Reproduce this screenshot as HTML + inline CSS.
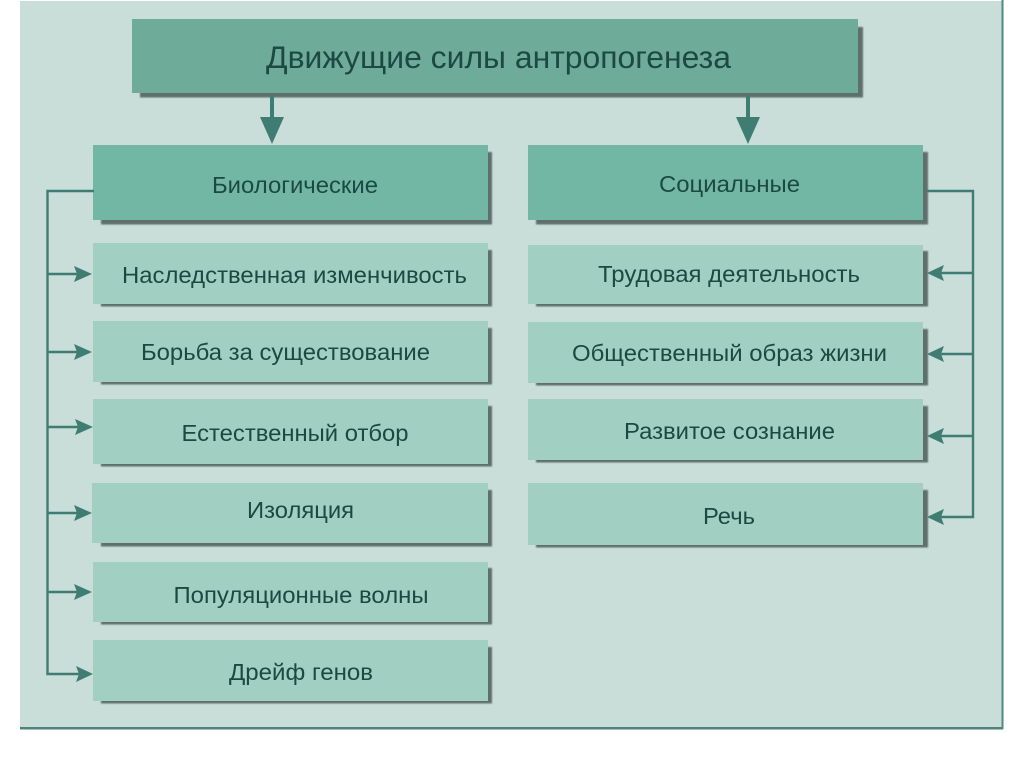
<!DOCTYPE html>
<html><head><meta charset="utf-8"><style>
html,body{margin:0;padding:0;background:#fff;width:1024px;height:767px;overflow:hidden}
svg{display:block}
text{font-family:"Liberation Sans",sans-serif;fill:#1b4a43;text-anchor:middle}
</style></head><body>
<svg width="1024" height="767" viewBox="0 0 1024 767" xmlns="http://www.w3.org/2000/svg">
<defs><filter id="b" x="-5%" y="-10%" width="110%" height="120%"><feGaussianBlur stdDeviation="0.7"/></filter>
<filter id="t" x="-5%" y="-20%" width="110%" height="140%"><feGaussianBlur stdDeviation="0.3"/></filter></defs>
<rect x="20" y="1" width="982" height="727" fill="#c9ddd9"/>
<rect x="20" y="727" width="983" height="2.5" fill="#4d8379"/>
<rect x="1001.5" y="0" width="2" height="729" fill="#4d8a82"/>
<g fill="#5f6f6b" filter="url(#b)">
<rect x="140" y="27" width="723" height="70.500"/>
<rect x="101" y="152" width="391" height="72.500"/>
<rect x="536" y="152" width="392" height="72.500"/>
<rect x="101" y="250" width="391" height="56.500"/>
<rect x="101" y="328" width="391" height="56.500"/>
<rect x="101" y="406" width="391" height="60.500"/>
<rect x="101" y="490" width="391" height="56.500"/>
<rect x="101" y="568" width="391" height="56.500"/>
<rect x="101" y="647" width="391" height="56.500"/>
<rect x="536" y="251" width="392" height="55.500"/>
<rect x="536" y="329" width="392" height="56.500"/>
<rect x="536" y="406" width="392" height="56.500"/>
<rect x="536" y="490" width="392" height="57.500"/>
</g>
<rect x="132" y="19" width="726" height="74" fill="#6fab99"/>
<g fill="#72b7a3">
<rect x="93" y="145" width="395" height="75"/>
<rect x="528" y="145" width="395" height="75"/>
</g>
<g fill="#a1cfc1">
<rect x="93" y="243" width="395" height="61"/>
<rect x="93" y="321" width="395" height="61"/>
<rect x="93" y="399" width="395" height="65"/>
<rect x="92" y="483" width="396" height="60"/>
<rect x="93" y="562" width="395" height="60"/>
<rect x="93" y="640" width="395" height="61"/>
<rect x="528" y="245" width="395" height="59"/>
<rect x="528" y="322" width="395" height="61"/>
<rect x="528" y="399" width="395" height="61"/>
<rect x="528" y="483" width="395" height="62"/>
</g>
<g fill="none" stroke="#3f7d72" stroke-width="2.4">
<path d="M94 191H47.500V674H80"/>
<path d="M47.500 274H80M47.500 352H80M47.500 427H80M47.500 513H80M47.500 592H80"/>
<path d="M927 191H973V517H940"/>
<path d="M973 273H940M973 354H940M973 436H940"/>
</g>
<g fill="none" stroke="#3f7d72" stroke-width="4">
<path d="M272 96V122M748 96V122"/>
</g>
<g fill="#3f7d72">
<path d="M260 117L284 117L272 144Z"/>
<path d="M736 117L760 117L748 144Z"/>
<path d="M92 274L74 266L77 274L74 282Z"/>
<path d="M92 352L74 344L77 352L74 360Z"/>
<path d="M93 427L75 419L78 427L75 435Z"/>
<path d="M92 513L74 505L77 513L74 521Z"/>
<path d="M92 592L74 584L77 592L74 600Z"/>
<path d="M93 674L76 666L79 674L76 682Z"/>
<path d="M927 273L944 265L941 273L944 281Z"/>
<path d="M927 354L944 346L941 354L944 362Z"/>
<path d="M927 436L944 428L941 436L944 444Z"/>
<path d="M927 517L944 509L941 517L944 525Z"/>
</g>
<g filter="url(#t)">
<text x="498.500" y="68" font-size="31.500" textLength="465" lengthAdjust="spacingAndGlyphs">Движущие силы антропогенеза</text>
<text x="295" y="193" font-size="23.500" textLength="166" lengthAdjust="spacingAndGlyphs">Биологические</text>
<text x="729.500" y="192" font-size="23.500" textLength="141" lengthAdjust="spacingAndGlyphs">Социальные</text>
<text x="294.500" y="283" font-size="23.500" textLength="345" lengthAdjust="spacingAndGlyphs">Наследственная изменчивость</text>
<text x="285.500" y="360" font-size="23.500" textLength="289" lengthAdjust="spacingAndGlyphs">Борьба за существование</text>
<text x="295" y="441" font-size="23.500" textLength="227" lengthAdjust="spacingAndGlyphs">Естественный отбор</text>
<text x="300.500" y="518" font-size="23.500" textLength="107" lengthAdjust="spacingAndGlyphs">Изоляция</text>
<text x="301" y="603" font-size="23.500" textLength="255" lengthAdjust="spacingAndGlyphs">Популяционные волны</text>
<text x="301" y="680" font-size="23.500" textLength="144" lengthAdjust="spacingAndGlyphs">Дрейф генов</text>
<text x="729" y="282" font-size="23.500" textLength="262" lengthAdjust="spacingAndGlyphs">Трудовая деятельность</text>
<text x="729.500" y="361" font-size="23.500" textLength="315" lengthAdjust="spacingAndGlyphs">Общественный образ жизни</text>
<text x="729.500" y="439" font-size="23.500" textLength="211" lengthAdjust="spacingAndGlyphs">Развитое сознание</text>
<text x="729" y="524" font-size="23.500" textLength="52" lengthAdjust="spacingAndGlyphs">Речь</text>
</g>
</svg>
</body></html>
